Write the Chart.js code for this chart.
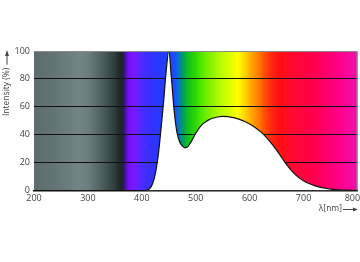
<!DOCTYPE html>
<html>
<head>
<meta charset="utf-8">
<script src="https://cdn.jsdelivr.net/npm/chart.js@4/dist/chart.umd.min.js"></script>
<style>
  body { margin: 0; background: #fff; }
</style>
</head>
<body>
<canvas id="spectrumChart" width="360" height="262"></canvas>
<script>
// Wavelength samples (nm) and relative intensity (%)
const wavelengths = [200, 300, 400, 405, 410, 415, 420, 425, 430, 435, 440, 445, 450, 455, 460, 465, 470, 475, 480, 485, 490, 495, 500, 505, 510, 515, 520, 525, 530, 540, 550, 560, 570, 580, 590, 600, 610, 620, 630, 640, 650, 660, 670, 680, 690, 700, 710, 720, 730, 740, 750, 760, 770, 780, 790, 800];
const intensity = [0, 0, 0, 0, 0.3, 1.5, 5, 12, 24, 42, 62, 85, 100, 80, 57, 42, 35, 32, 30.6, 31.3, 34, 37.5, 41, 44, 46.5, 48.3, 49.7, 50.8, 51.6, 52.7, 53.2, 53, 52.3, 51.2, 49.6, 47.6, 45.2, 42.2, 38.5, 34, 29, 23.3, 17.8, 13.2, 9.6, 7, 5, 3.5, 2.4, 1.6, 1, 0.6, 0.35, 0.2, 0.1, 0.05];

const xTicks = [200, 300, 400, 500, 600, 700, 800];
const yTicks = [0, 20, 40, 60, 80, 100];

// Background colour of the plot, by wavelength
const spectrumStops = [
  [200, '#5c6c6c'], [240, '#647575'], [285, '#728585'], [300, '#6c7e7e'],
  [330, '#4a5a5a'], [350, '#2e3c3c'], [360, '#1c2828'], [366, '#2a1a50'],
  [372, '#6010d0'], [378, '#7a10ff'], [385, '#7a18ff'], [400, '#4a2cff'],
  [420, '#3232ff'], [445, '#2040ff'], [462, '#1a50ff'], [470, '#0080b0'],
  [477, '#00a050'], [485, '#10c020'], [500, '#30d800'], [510, '#50e800'],
  [525, '#80f000'], [540, '#a8f800'], [555, '#c8ff00'], [568, '#e8ff00'],
  [578, '#ffff00'], [590, '#ffd800'], [603, '#ffa800'], [613, '#ff8800'],
  [625, '#ff5800'], [640, '#ff2810'], [655, '#ff1010'], [680, '#ff0830'],
  [720, '#ff0050'], [760, '#ff0080'], [800, '#f010b0']
];

const spectrumBackground = {
  id: 'spectrumBackground',
  beforeDraw(chart) {
    const { ctx, chartArea: a, scales: { x } } = chart;
    const x0 = x.getPixelForValue(200);
    const x1 = x.getPixelForValue(800);
    const grad = ctx.createLinearGradient(x0, 0, x1, 0);
    spectrumStops.forEach(([nm, c]) => grad.addColorStop((nm - 200) / 600, c));
    ctx.save();
    ctx.fillStyle = grad;
    ctx.fillRect(a.left, a.top, a.right - a.left, a.bottom - a.top);
    ctx.restore();
  },
  afterDraw(chart) {
    const { ctx, chartArea: a } = chart;
    ctx.save();
    // top and right frame
    ctx.strokeStyle = '#8a8a8a';
    ctx.lineWidth = 1;
    ctx.beginPath();
    ctx.moveTo(a.left, a.top + 0.5);
    ctx.lineTo(a.right - 0.5, a.top + 0.5);
    ctx.lineTo(a.right - 0.5, a.bottom);
    ctx.stroke();

    // axis titles with arrows
    ctx.fillStyle = '#444';
    ctx.strokeStyle = '#444';
    ctx.font = '8.5px "Open Sans", sans-serif';

    // y title (arrow tip at the top of the plot)
    ctx.save();
    ctx.translate(7, 116);
    ctx.rotate(-Math.PI / 2);
    ctx.textAlign = 'left';
    ctx.textBaseline = 'middle';
    ctx.fillText('Intensity (%)', 0, 0);
    const w = ctx.measureText('Intensity (%)').width;
    const tip = 116 - 50;
    ctx.beginPath();
    ctx.moveTo(w + 3, 0);
    ctx.lineTo(tip - 3, 0);
    ctx.stroke();
    ctx.beginPath();
    ctx.moveTo(tip, 0);
    ctx.lineTo(tip - 6, -2);
    ctx.lineTo(tip - 6, 2);
    ctx.closePath();
    ctx.fill();
    ctx.restore();

    // x title
    ctx.textAlign = 'right';
    ctx.textBaseline = 'middle';
    ctx.fillText('\u03bb[nm]', 342, 209);
    ctx.beginPath();
    ctx.moveTo(343, 209.5);
    ctx.lineTo(355, 209.5);
    ctx.stroke();
    ctx.beginPath();
    ctx.moveTo(358, 209.5);
    ctx.lineTo(353, 207.5);
    ctx.lineTo(353, 211.5);
    ctx.closePath();
    ctx.fill();
    ctx.restore();
  }
};

const ctx = document.getElementById('spectrumChart').getContext('2d');
window.spectrumChart = new Chart(ctx, {
  type: 'line',
  data: {
    datasets: [{
      data: wavelengths.map((nm, i) => ({ x: nm, y: intensity[i] })),
      borderColor: '#111',
      borderWidth: 1.2,
      backgroundColor: '#ffffff',
      fill: 'origin',
      pointRadius: 0,
      cubicInterpolationMode: 'monotone'
    }]
  },
  options: {
    responsive: false,
    devicePixelRatio: 1,
    animation: false,
    layout: { padding: { top: 51, right: 2.5, left: 0, bottom: 0 } },
    plugins: {
      legend: { display: false },
      tooltip: { enabled: false }
    },
    scales: {
      x: {
        type: 'linear',
        min: 200,
        max: 800,
        z: 1,
        afterBuildTicks: (scale) => { scale.ticks = xTicks.map(v => ({ value: v })); },
        afterFit: (scale) => {
          scale.height = 71.5;
          scale.paddingLeft = 0;
          scale.paddingRight = 0;
        },
        grid: { display: false, drawTicks: false },
        border: { display: true, color: '#111', width: 1.5 },
        ticks: {
          color: '#444',
          padding: 3,
          maxRotation: 0,
          font: { family: '"Open Sans", sans-serif', size: 9 },
          callback: (v) => v === 800 ? v + '\u2007\u2007' : String(v)
        }
      },
      y: {
        min: 0,
        max: 100,
        afterBuildTicks: (scale) => { scale.ticks = yTicks.map(v => ({ value: v })); },
        afterFit: (scale) => { scale.width = 34; },
        border: { display: false },
        grid: {
          drawTicks: false,
          lineWidth: 1,
          color: (c) => (c.tick.value === 0 || c.tick.value === 100) ? 'rgba(0,0,0,0)' : '#111'
        },
        ticks: {
          color: '#444',
          padding: 4,
          font: { family: '"Open Sans", sans-serif', size: 9 }
        }
      }
    }
  },
  plugins: [spectrumBackground]
});
</script>
</body>
</html>
